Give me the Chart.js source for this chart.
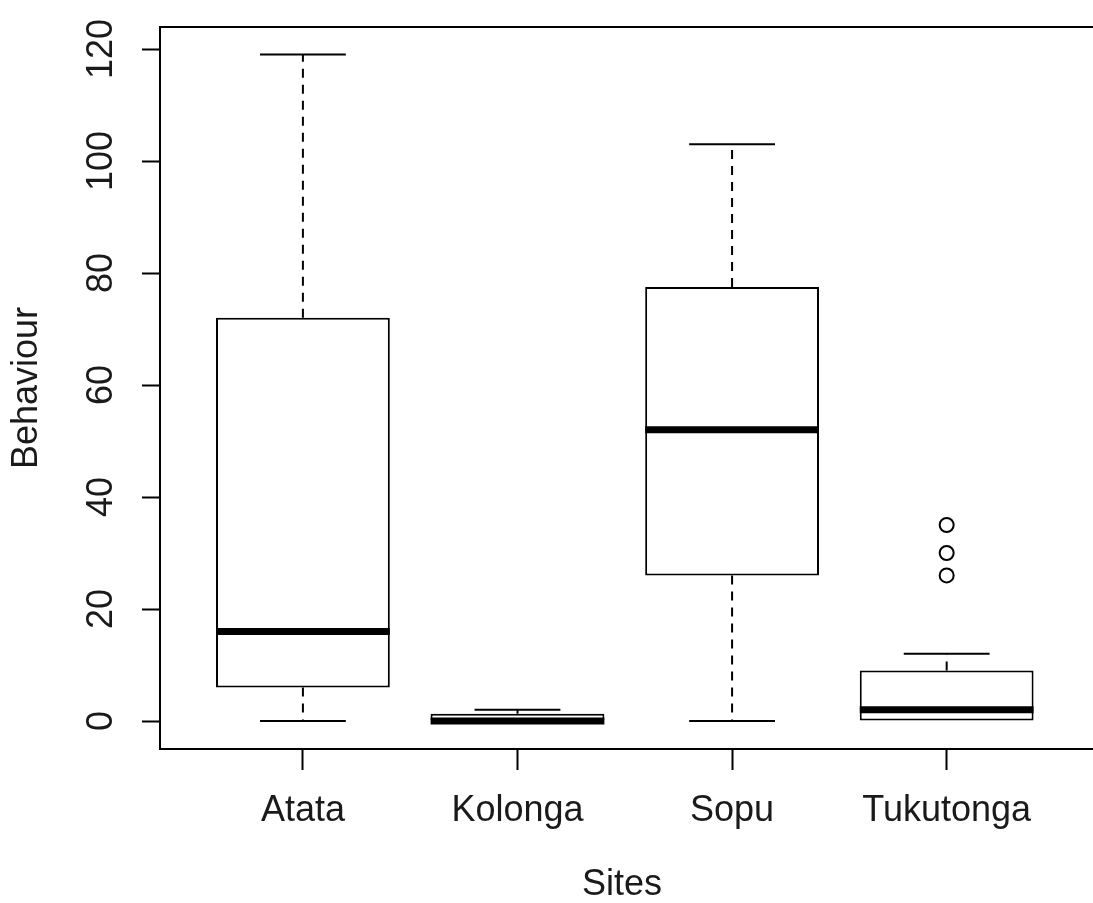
<!DOCTYPE html>
<html>
<head>
<meta charset="utf-8">
<script src="https://cdn.jsdelivr.net/npm/chart.js@4.4.0/dist/chart.umd.min.js"></script>
<style>
 html, body { margin: 0; padding: 0; background: #ffffff; }
 #wrap { width: 1093px; height: 903px; }
</style>
</head>
<body>
<div id="wrap"><canvas id="behaviour-chart" width="1093" height="903"></canvas></div>
<script>
var sites = ["Atata", "Kolonga", "Sopu", "Tukutonga"];
var whiskerLow = [0, 0, 0, 0];
var lowerQuartile = [6, 0, 26, 0];
var medians = [16, 0, 52, 2];
var upperQuartile = [72, 1.3, 77.5, 9];
var whiskerHigh = [119, 2, 103, 12];
var outlierSite = [4, 4, 4];
var outlierValues = [26, 30, 35];
var yTicks = [0, 20, 40, 60, 80, 100, 120];

Chart.defaults.font.family = '"Liberation Sans", Arial, sans-serif';
Chart.defaults.font.size = 36;
Chart.defaults.color = "#1a1a1a";

function line(ctx, x1, y1, x2, y2) {
 ctx.beginPath();
 ctx.moveTo(x1, y1);
 ctx.lineTo(x2, y2);
 ctx.stroke();
}

// whiskers, staples, medians and the frame round the plot
var boxExtras = {
 id: "boxExtras",
 beforeDatasetsDraw: function (chart) {
  var ctx = chart.ctx;
  var xs = chart.scales.x;
  var ys = chart.scales.y;
  ctx.save();
  ctx.strokeStyle = "#000000";
  ctx.lineWidth = 2;
  sites.forEach(function (name, i) {
   var cx = xs.getPixelForValue(i + 1);
   var half = xs.getPixelForValue(i + 1.2) - cx;
   var yHigh = ys.getPixelForValue(whiskerHigh[i]);
   var yLow = ys.getPixelForValue(whiskerLow[i]);
   ctx.setLineDash([9, 7]);
   line(ctx, cx, ys.getPixelForValue(upperQuartile[i]), cx, yHigh);
   if (whiskerLow[i] < lowerQuartile[i]) {
    line(ctx, cx, ys.getPixelForValue(lowerQuartile[i]), cx, yLow);
   }
   ctx.setLineDash([]);
   line(ctx, cx - half, yHigh, cx + half, yHigh);
   // lower staple sits under the box edge when it equals the quartile
   if (whiskerLow[i] < lowerQuartile[i]) {
    line(ctx, cx - half, yLow, cx + half, yLow);
   }
  });
  ctx.restore();
 },
 afterDatasetsDraw: function (chart) {
  var ctx = chart.ctx;
  var ys = chart.scales.y;
  var bars = chart.getDatasetMeta(0).data;
  ctx.save();
  ctx.strokeStyle = "#000000";
  ctx.lineWidth = 7;
  ctx.lineCap = "butt";
  bars.forEach(function (bar, i) {
   var p = bar.getProps(["x", "width"], true);
   var y = ys.getPixelForValue(medians[i]);
   line(ctx, p.x - p.width / 2, y, p.x + p.width / 2, y);
  });
  ctx.restore();
 },
 afterDraw: function (chart) {
  var ctx = chart.ctx;
  var a = chart.chartArea;
  ctx.save();
  ctx.strokeStyle = "#000000";
  ctx.lineWidth = 2;
  ctx.strokeRect(a.left, a.top, a.right - a.left + 10, a.bottom - a.top);
  ctx.restore();
 },
};

var boxData = sites.map(function (s, i) {
 return { x: i + 1, y: [lowerQuartile[i], upperQuartile[i]] };
});
var outlierData = outlierValues.map(function (v, i) {
 return { x: outlierSite[i], y: v };
});

var ctx = document.getElementById("behaviour-chart");

new Chart(ctx, {
 type: "bar",
 data: {
  datasets: [
   {
    label: "Behaviour",
    data: boxData,
    backgroundColor: "#ffffff",
    borderColor: "#000000",
    borderWidth: 2,
    borderSkipped: false,
    barPercentage: 0.81,
    categoryPercentage: 1,
   },
   {
    type: "scatter",
    label: "Outliers",
    data: outlierData,
    pointRadius: 7,
    pointBorderWidth: 2,
    pointBackgroundColor: "#ffffff",
    pointBorderColor: "#000000",
   },
  ],
 },
 options: {
  responsive: false,
  animation: false,
  layout: {
   padding: { top: 27, left: 0, right: 0, bottom: 0 },
  },
  plugins: {
   legend: { display: false },
   tooltip: { enabled: false },
  },
  scales: {
   x: {
    type: "linear",
    min: 0.334,
    max: 4.64,
    offset: false,
    afterBuildTicks: function (scale) {
     scale.ticks = sites.map(function (s, i) {
      return { value: i + 1 };
     });
    },
    afterFit: function (scale) {
     scale.height = 154;
     scale.paddingLeft = 0;
     scale.paddingRight = 0;
    },
    ticks: {
     autoSkip: false,
     maxRotation: 0,
     padding: 19,
     callback: function (v) {
      return sites[Math.round(v) - 1];
     },
    },
    grid: {
     display: true,
     offset: false,
     drawOnChartArea: false,
     drawTicks: true,
     tickLength: 21,
     tickWidth: 2,
     tickColor: "#000000",
    },
    border: { display: false },
    title: {
     display: true,
     text: "Sites",
     padding: 0,
     font: { size: 36, lineHeight: 1 },
    },
   },
   y: {
    type: "linear",
    min: -5,
    max: 123.93,
    afterBuildTicks: function (scale) {
     scale.ticks = yTicks.map(function (v) {
      return { value: v };
     });
    },
    afterFit: function (scale) {
     scale.width = 160;
     scale.paddingTop = 0;
     scale.paddingBottom = 0;
    },
    ticks: {
     minRotation: 90,
     maxRotation: 90,
     crossAlign: "center",
     padding: 10,
    },
    grid: {
     display: true,
     drawOnChartArea: false,
     drawTicks: true,
     tickLength: 18,
     tickWidth: 2,
     tickColor: "#000000",
    },
    border: { display: false },
    title: {
     display: true,
     text: "Behaviour",
     padding: { top: 5, bottom: 0 },
    },
   },
  },
 },
 plugins: [boxExtras],
});
</script>
</body>
</html>
